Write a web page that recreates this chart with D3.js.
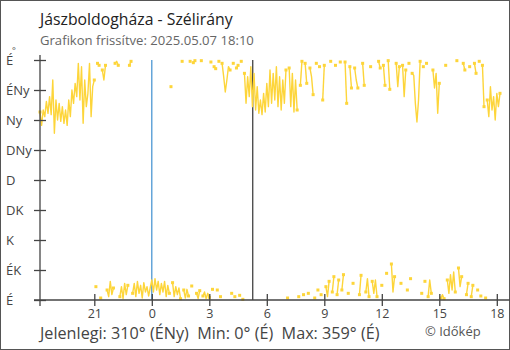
<!DOCTYPE html>
<html><head><meta charset="utf-8">
<script src="https://cdn.jsdelivr.net/npm/d3@7"></script>
<style>
html,body{margin:0;padding:0;background:#fff;}
svg{display:block;font-family:"Open Sans",sans-serif;}
</style></head>
<body>
<svg id="chart" width="510" height="350"></svg>
<script>
// ---- data ----
const titleText = "Jászboldogháza - Szélirány";
const subtitleText = "Grafikon frissítve: 2025.05.07 18:10";
const footerText = "Jelenlegi: 310° (ÉNy)  Min: 0° (É)  Max: 359° (É)";
const creditText = "© Időkép";
const dirLabels = ["É", "ÉK", "K", "DK", "D", "DNy", "Ny", "ÉNy", "É"];
const dirTicks = [0, 45, 90, 135, 180, 225, 270, 315, 360];
const hourLabels = ["21", "0", "3", "6", "9", "12", "15", "18"];
const hourDays = ["2025-05-06", "2025-05-07", "2025-05-07", "2025-05-07", "2025-05-07", "2025-05-07", "2025-05-07", "2025-05-07"];
const startStr = "2025-05-06T18:10:00";
const endStr = "2025-05-07T18:10:00";
const stepMinutes = 5;
const midnightStr = "2025-05-07T00:00:00";
const sunriseStr = "2025-05-07T05:16:00";
// wind direction (degrees), one reading every 5 minutes from 18:10
const dirs = [
 282,262,285,275,298,280,305,278,330,250,300,270,
 295,268,290,265,285,262,300,275,315,295,325,305,
 355,300,350,265,330,290,310,355,275,320,330,20,
 355,352,3,345,330,352,15,5,28,8,18,355,
 358,352,5,20,2,25,8,22,352,358,10,25,
 5,28,10,22,3,26,12,20,6,18,30,12,
 32,15,28,8,25,12,28,5,22,10,320,26,
 5,20,8,18,2,358,15,3,16,6,358,21,
 356,359,10,2,14,359,6,12,2,10,4,357,
 16,350,347,15,358,5,355,335,312,330,350,345,
 10,355,5,348,352,7,358,1,340,295,335,305,
 350,290,340,285,320,280,300,278,310,282,325,290,
 345,295,340,300,350,290,335,285,330,295,345,3,
 348,290,340,282,330,285,5,322,358,8,355,325,
 10,348,335,308,3,355,15,350,8,300,352,20,
 5,28,358,12,35,352,8,30,357,15,38,357,
 295,10,350,318,25,348,330,318,8,37,355,322,
 12,32,5,350,28,10,30,5,358,348,22,352,
 322,40,359,316,54,12,35,355,320,350,25,352,
 305,345,15,355,32,340,337,295,267,300,358,10,
 350,28,355,5,30,10,345,318,340,280,325,3,
 8,2,352,30,10,38,15,42,12,359,48,20,
 35,355,345,8,25,350,5,22,355,340,15,358,
 6,352,290,3,300,275,320,285,305,270,310,290,
 310
];

// ---- layout ----
const svg = d3.select("#chart");
const parse = d3.isoParse;
const t0 = parse(startStr), t1 = parse(endStr);
const x = d3.scaleTime().domain([t0, t1]).range([40, 500]);
const y = d3.scaleLinear().domain([0, 360]).range([300, 60]);
const axisColor = "#444";
const lineColor = "#fdd53a";

// frame
svg.append("rect").attr("x",0.5).attr("y",0.5).attr("width",509).attr("height",349)
  .attr("fill","none").attr("stroke","#555").attr("stroke-width",1);

// title
svg.append("text").attr("x",40).attr("y",25).attr("font-size",15.8).attr("fill","#222").text(titleText);
svg.append("text").attr("x",40).attr("y",45).attr("font-size",13.1).attr("fill","#666").text(subtitleText);

// vertical markers
svg.append("line").attr("x1",x(parse(midnightStr))).attr("x2",x(parse(midnightStr)))
  .attr("y1",y(360)).attr("y2",y(0)).attr("stroke","#3e8fd0").attr("stroke-width",1.2);
svg.append("line").attr("x1",x(parse(sunriseStr))).attr("x2",x(parse(sunriseStr)))
  .attr("y1",y(360)).attr("y2",y(0)).attr("stroke","#333").attr("stroke-width",1.2);

// data
const pts = dirs.map((d,i) => ({t: new Date(t0.getTime() + i*stepMinutes*60000), v: d}));
const segs = [];
let cur = [pts[0]];
for (let i = 1; i < pts.length; i++) {
  if (Math.abs(pts[i].v - pts[i-1].v) > 180) { segs.push(cur); cur = [pts[i]]; }
  else cur.push(pts[i]);
}
segs.push(cur);
const line = d3.line().x(d => x(d.t)).y(d => y(d.v));
const g = svg.append("g");
segs.forEach(s => {
  if (s.length > 1) {
    g.append("path").attr("d", line(s)).attr("fill","none")
      .attr("stroke", lineColor).attr("stroke-width",1.4).attr("stroke-linejoin","round");
  }
  [s[0], s[s.length-1]].forEach((p, k) => {
    if (k === 1 && s.length === 1) return;
    g.append("rect").attr("x", x(p.t)-1.5).attr("y", y(p.v)-1.5)
      .attr("width",3).attr("height",3).attr("fill", lineColor);
  });
});

// y axis
const yAxis = d3.axisLeft(y).tickValues(dirTicks).tickFormat((d,i) => dirLabels[i]).tickSize(6);
const ya = svg.append("g").attr("transform","translate(40,0)").call(yAxis);
ya.select(".domain").remove();
ya.selectAll(".tick line").attr("x1",-6).attr("x2",6).attr("stroke",axisColor).attr("stroke-width",1.3);
ya.selectAll(".tick text").attr("x",-34).attr("text-anchor","start").attr("font-size",13)
  .attr("fill",axisColor).attr("font-family","Open Sans");
svg.append("line").attr("x1",40).attr("x2",40).attr("y1",55).attr("y2",306)
  .attr("stroke",axisColor).attr("stroke-width",1.3);
svg.append("text").attr("x",12).attr("y",54).attr("font-size",9).attr("fill",axisColor).text("°");

// x axis
const hourTicks = hourLabels.map((h,i) => new Date(parse(hourDays[i] + "T00:00:00").getTime() + (+h)*3600000));
const xAxis = d3.axisBottom(x).tickValues(hourTicks).tickFormat((d,i) => hourLabels[i]).tickSize(6);
const xa = svg.append("g").attr("transform","translate(0,300)").call(xAxis);
xa.select(".domain").remove();
xa.selectAll(".tick line").attr("y1",-6).attr("y2",6).attr("stroke",axisColor).attr("stroke-width",1.3);
xa.selectAll(".tick text").attr("y",9).attr("font-size",12.5).attr("fill",axisColor).attr("font-family","Open Sans");
svg.append("line").attr("x1",34).attr("x2",510).attr("y1",300).attr("y2",300)
  .attr("stroke",axisColor).attr("stroke-width",1.3);

// footer
svg.append("text").attr("x",40).attr("y",339).attr("font-size",16.2).attr("fill",axisColor)
  .attr("xml:space","preserve").style("white-space","pre").text(footerText);
svg.append("text").attr("x",425).attr("y",336).attr("font-size",13).attr("fill","#555").text(creditText);
</script>
</body></html>
